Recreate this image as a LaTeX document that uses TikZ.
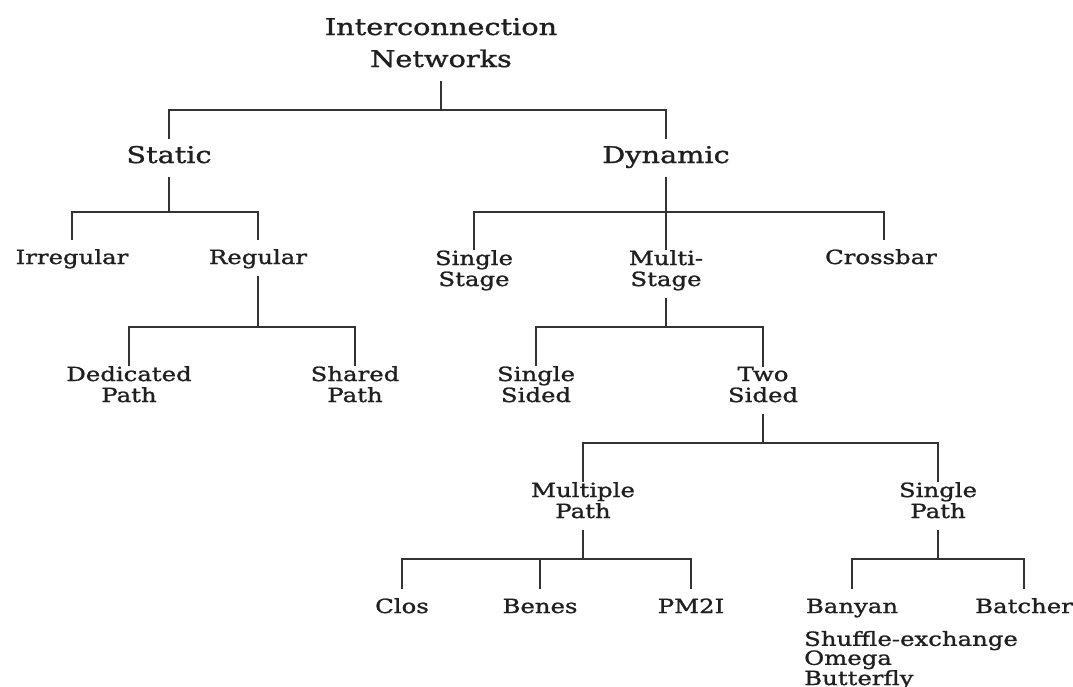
\documentclass[tikz,border=0pt]{standalone}
\usepackage{fontspec}
\setmainfont{DejaVu Serif}[FakeStretch=1.25,FakeBold=1.2]
\begin{document}
\begin{tikzpicture}[x=1pt,y=-1pt,
  every node/.style={inner sep=0pt,align=center,anchor=base,text=black!88},
  biglbl/.style={font=\fontsize{23}{32}\selectfont,
    execute at begin node={\rule{0pt}{23.5pt}},
    execute at end node={\rule[-13.5pt]{0pt}{13.5pt}}},
  lbl/.style={font=\fontsize{19.5}{21}\selectfont,
    execute at begin node={\rule{0pt}{24pt}},
    execute at end node={\rule[-12pt]{0pt}{12pt}}},
  link/.style={draw=black!80,line width=1.8pt}]
\fill[white] (0,0) rectangle (1073,686);
\useasboundingbox (0,0) rectangle (1073,686);

% labels (a node's base is the baseline of its last line)
\node[biglbl] (root) at (441,67) {Interconnection\\Networks};
\node[biglbl] (static) at (169,163) {Static};
\node[biglbl] (dynamic) at (666,163) {Dynamic};
\node[lbl] (irr) at (72,264) {Irregular};
\node[lbl] (reg) at (258,264) {Regular};
\node[lbl] (ded) at (129,402) {Dedicated\\Path};
\node[lbl] (shr) at (355,402) {Shared\\Path};
\node[lbl] (sstage) at (474,286) {Single\\Stage};
\node[lbl] (mstage) at (666,286) {Multi-\\Stage};
\node[lbl] (cross) at (881,264) {Crossbar};
\node[lbl] (ssided) at (536,402) {Single\\Sided};
\node[lbl] (tsided) at (763,402) {Two\\Sided};
\node[lbl] (mpath) at (583,518) {Multiple\\Path};
\node[lbl] (spath) at (938,518) {Single\\Path};
\node[lbl] (clos) at (402,613) {Clos};
\node[lbl] (benes) at (540,613) {Benes};
\node[lbl] (pm) at (691,613) {PM2I};
\node[lbl] (banyan) at (852,613) {Banyan};
\node[lbl] (batcher) at (1024,613) {Batcher};
\node[anchor=base west,align=left,font=\fontsize{19.5}{19}\selectfont] (kinds) at (804,685)
  {Shuffle-exchange\\Omega\\Butterfly};

% junctions of the branches
\coordinate (jroot) at (441,110);
\coordinate (jstatic) at (169,212);
\coordinate (jdyn) at (666,212);
\coordinate (jreg) at (258,327);
\coordinate (jms) at (666,327);
\coordinate (jts) at (763,443);
\coordinate (jmp) at (583,559);
\coordinate (jsp) at (938,559);

% connectors
\draw[link] (root.south) -- (jroot);
\draw[link] (static.north) |- (jroot) -| (dynamic.north);

\draw[link] (static.south) -- (jstatic);
\draw[link] (irr.north) |- (jstatic) -| (reg.north);

\draw[link] (reg.south) -- (jreg);
\draw[link] (ded.north) |- (jreg) -| (shr.north);

\draw[link] (dynamic.south) -- (jdyn) -- (mstage.north);
\draw[link] (sstage.north) |- (jdyn) -| ([xshift=3pt]cross.north);

\draw[link] (mstage.south) -- (jms);
\draw[link] (ssided.north) |- (jms) -| (tsided.north);

\draw[link] (tsided.south) -- (jts);
\draw[link] (mpath.north) |- (jts) -| (spath.north);

\draw[link] (mpath.south) -- (jmp);
\draw[link] (clos.north) |- (jmp) -| (pm.north);
\draw[link] (benes.north) -- (benes.north |- jmp);

\draw[link] (spath.south) -- (jsp);
\draw[link] (banyan.north) |- (jsp) -| (batcher.north);
\end{tikzpicture}
\end{document}
